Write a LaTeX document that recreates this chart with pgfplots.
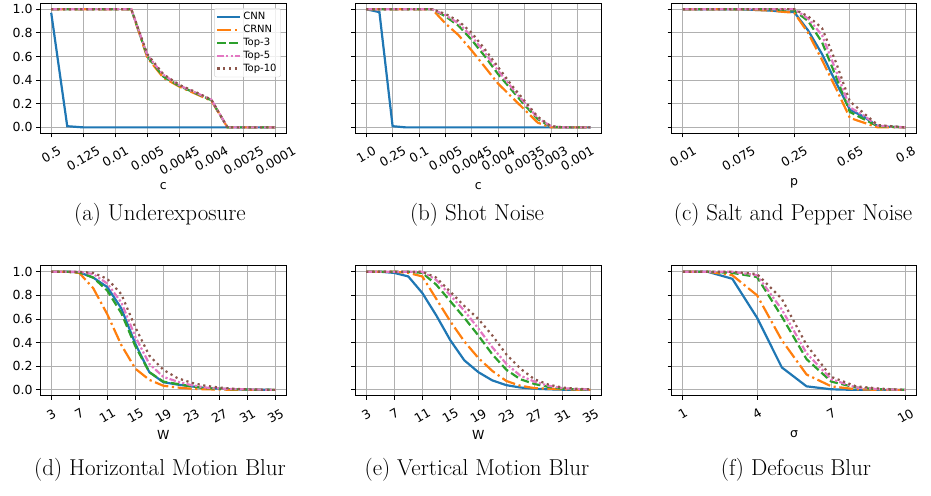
\documentclass[border=0pt]{standalone}
\usepackage{graphicx}
\usepackage{fontspec}
\usepackage{pgfplots}
\usepackage{pgfplotstable}
\pgfplotsset{compat=1.18}
\newfontfamily\dv{DejaVu Sans}

\definecolor{c1}{HTML}{1F77B4}
\definecolor{c2}{HTML}{FF7F0E}
\definecolor{c3}{HTML}{2CA02C}
\definecolor{c4}{HTML}{E377C2}
\definecolor{c5}{HTML}{8C564B}

\newcommand{\rt}[1]{\rotatebox{30}{#1}}

% columns: x cnn crnn top3 top5 top10
\pgfplotstableread{
x cnn crnn t3 t5 t10
0 0.97 1 1 1 1
0.5 0.01 1 1 1 1
1 0 1 1 1 1
1.5 0 1 1 1 1
2 0 1 1 1 1
2.5 0 1 1 1 1
3 0 0.59 0.60 0.61 0.62
3.5 0 0.42 0.43 0.445 0.45
4 0 0.345 0.35 0.355 0.36
4.5 0 0.285 0.29 0.295 0.30
5 0 0.225 0.23 0.235 0.235
5.5 0 0 0 0 0
6 0 0 0 0 0
6.5 0 0 0 0 0
7 0 0 0 0 0
}\tabA

\pgfplotstableread{
x cnn crnn t3 t5 t10
0 1 1 1 1 1
0.5 0.975 1 1 1 1
1 0.01 1 1 1 1
1.5 0 1 1 1 1
2 0 1 1 1 1
2.5 0 1 1 1 1
3 0 0.88 0.94 0.95 0.96
3.5 0 0.78 0.86 0.88 0.90
4 0 0.65 0.74 0.77 0.80
4.5 0 0.51 0.60 0.63 0.66
5 0 0.37 0.45 0.48 0.51
5.5 0 0.26 0.32 0.34 0.36
6 0 0.15 0.19 0.21 0.225
6.5 0 0.04 0.07 0.08 0.09
7 0 0 0.005 0.01 0.01
7.5 0 0 0 0 0
8 0 0 0 0 0
8.5 0 0 0 0 0
}\tabB

\pgfplotstableread{
x cnn crnn t3 t5 t10
0 1 1 1 1 1
0.5 1 1 1 1 1
1 1 1 1 1 1
1.5 0.99 0.99 1 1 1
2 0.975 0.97 0.99 1 1
2.25 0.82 0.80 0.90 0.92 0.94
2.5 0.62 0.57 0.72 0.78 0.84
2.75 0.38 0.33 0.43 0.48 0.55
3 0.15 0.08 0.13 0.17 0.22
3.25 0.09 0.04 0.07 0.10 0.12
3.5 0.01 0 0.01 0.015 0.02
4 0 0 0 0 0
}\tabC

\pgfplotstableread{
x cnn crnn t3 t5 t10
3 1 1 1 1 1
5 1 1 1 1 1
7 0.995 0.99 0.995 1 1
9 0.95 0.86 0.95 0.98 0.99
11 0.87 0.64 0.84 0.90 0.94
13 0.69 0.38 0.65 0.74 0.81
15 0.39 0.18 0.37 0.45 0.53
17 0.15 0.085 0.15 0.22 0.29
19 0.065 0.035 0.07 0.11 0.17
21 0.045 0.02 0.05 0.07 0.10
23 0.03 0.01 0.03 0.04 0.06
25 0.015 0.005 0.015 0.02 0.035
27 0.01 0.003 0.01 0.012 0.02
29 0.005 0.001 0.005 0.007 0.01
31 0.003 0 0.003 0.004 0.005
33 0.001 0 0.001 0.002 0.002
35 0 0 0 0 0
}\tabD

\pgfplotstableread{
x cnn crnn t3 t5 t10
3 1 1 1 1 1
5 1 1 1 1 1
7 0.99 1 1 1 1
9 0.96 0.99 1 1 1
11 0.82 0.96 0.99 1 1
13 0.63 0.77 0.89 0.93 0.95
15 0.42 0.58 0.75 0.80 0.83
17 0.25 0.41 0.61 0.67 0.71
19 0.15 0.27 0.46 0.52 0.60
21 0.08 0.16 0.30 0.36 0.46
23 0.04 0.075 0.17 0.22 0.30
25 0.02 0.035 0.09 0.12 0.18
27 0.01 0.015 0.05 0.07 0.09
29 0.005 0.01 0.025 0.035 0.045
31 0.002 0.005 0.01 0.015 0.02
33 0.001 0.002 0.005 0.007 0.01
35 0 0 0.002 0.003 0.005
}\tabE

\pgfplotstableread{
x cnn crnn t3 t5 t10
1 1 1 1 1 1
2 1 1 1 1 1
3 0.94 0.97 0.99 1 1
4 0.61 0.80 0.955 0.97 0.98
5 0.19 0.42 0.62 0.68 0.77
6 0.03 0.13 0.26 0.31 0.38
7 0.005 0.03 0.07 0.09 0.11
8 0 0.005 0.02 0.02 0.03
9 0 0 0.005 0.005 0.01
10 0 0 0 0 0
}\tabF

\pgfplotsset{
  panel/.style={
    scale only axis, height=130pt,
    ymin=-0.05, ymax=1.05,
    ytick={0,0.2,0.4,0.6,0.8,1.0},
    grid=major, grid style={gray!62, line width=0.8pt},
    axis line style={black, line width=0.9pt},
    tick style={black, line width=0.9pt},
    tick align=outside, major tick length=4pt,
    xtick pos=bottom, ytick pos=left,
    ticklabel style={font=\dv\fontsize{12.5}{14}\selectfont},
    yticklabel style={/pgf/number format/.cd, fixed, fixed zerofill, precision=1,
      assume math mode=true},
    xticklabel style={anchor=north, inner sep=2pt, yshift=-6pt},
    label style={font=\dv\fontsize{12.5}{14}\selectfont},
    xlabel style={yshift=-1pt},
    no markers,
    every axis plot/.append style={line width=2.2pt},
    legend image code/.code={\draw[##1] (0pt,0pt) -- (22.7pt,0pt);},
  },
  noy/.style={yticklabels={}},
  s1/.style={color=c1, solid},
  s2/.style={color=c2, dash pattern=on 14pt off 3.6pt on 2.2pt off 3.6pt},
  s3/.style={color=c3, dash pattern=on 8.3pt off 3.6pt},
  s4/.style={color=c4, dash pattern=on 6.6pt off 2.2pt on 2.2pt off 2.2pt on 2.2pt off 2.2pt},
  s5/.style={color=c5, dash pattern=on 2.2pt off 3.6pt},
}

\newcommand{\fiveplots}[1]{%
  \addplot[s1] table[x=x, y=cnn] {#1};
  \addplot[s2] table[x=x, y=crnn] {#1};
  \addplot[s3] table[x=x, y=t3] {#1};
  \addplot[s4] table[x=x, y=t5] {#1};
  \addplot[s5] table[x=x, y=t10] {#1};
}

\begin{document}
\begin{tikzpicture}[x=1pt, y=1pt]
\useasboundingbox (0,0) rectangle (931,495);

% (a)
\begin{axis}[panel, at={(40pt,361.7pt)}, anchor=south west, width=246.7pt,
  xmin=-0.35, xmax=7.35, xtick={0,...,7},
  xticklabels={\rt{0.5},\rt{0.125},\rt{0.01},\rt{0.005},\rt{0.0045},\rt{0.004},\rt{0.0025},\rt{0.0001}},
  xlabel={c},
  legend style={at={(rel axis cs:1,1)}, xshift=-6pt, yshift=-5pt, anchor=north east,
    font=\dv\fontsize{10}{12}\selectfont, draw=gray!35, rounded corners=2pt,
    fill=white, fill opacity=0.8, text opacity=1, row sep=0pt, inner sep=2pt},
  legend cell align=left]
\fiveplots{\tabA}
\legend{CNN,CRNN,Top-3,Top-5,Top-10}
\end{axis}

% (b)
\begin{axis}[panel, noy, at={(355pt,361.7pt)}, anchor=south west, width=246.7pt,
  xmin=-0.425, xmax=8.925, xtick={0,...,8},
  xticklabels={\rt{1.0},\rt{0.25},\rt{0.1},\rt{0.005},\rt{0.0045},\rt{0.004},\rt{0.0035},\rt{0.003},\rt{0.001}},
  xlabel={c}]
\fiveplots{\tabB}
\end{axis}

% (c)
\begin{axis}[panel, noy, at={(671.7pt,361.7pt)}, anchor=south west, width=245pt,
  xmin=-0.2, xmax=4.2, xtick={0,...,4},
  xticklabels={\rt{0.01},\rt{0.075},\rt{0.25},\rt{0.65},\rt{0.8}},
  xlabel={p}]
\fiveplots{\tabC}
\end{axis}

% (d)
\begin{axis}[panel, at={(40pt,99.2pt)}, anchor=south west, width=246.7pt,
  xmin=1.4, xmax=36.6, xtick={3,7,...,35},
  xticklabels={\rt{3},\rt{7},\rt{11},\rt{15},\rt{19},\rt{23},\rt{27},\rt{31},\rt{35}},
  xlabel={W}]
\fiveplots{\tabD}
\end{axis}

% (e)
\begin{axis}[panel, noy, at={(355pt,99.2pt)}, anchor=south west, width=246.7pt,
  xmin=1.4, xmax=36.6, xtick={3,7,...,35},
  xticklabels={\rt{3},\rt{7},\rt{11},\rt{15},\rt{19},\rt{23},\rt{27},\rt{31},\rt{35}},
  xlabel={W}]
\fiveplots{\tabE}
\end{axis}

% (f)
\begin{axis}[panel, noy, at={(671.7pt,99.2pt)}, anchor=south west, width=245pt,
  xmin=0.55, xmax=10.45, xtick={1,4,7,10},
  xticklabels={\rt{1},\rt{4},\rt{7},\rt{10}},
  xlabel={σ}]
\fiveplots{\tabF}
\end{axis}

% sub-captions
\begin{scope}[every node/.style={font=\fontsize{23}{27}\selectfont}]
\node at (160,280) {(a) Underexposure};
\node at (477,280) {(b) Shot Noise};
\node at (793,280) {(c) Salt and Pepper Noise};
\node at (160,25) {(d) Horizontal Motion Blur};
\node at (477,25) {(e) Vertical Motion Blur};
\node at (796,25) {(f) Defocus Blur};
\end{scope}
\end{tikzpicture}
\end{document}
